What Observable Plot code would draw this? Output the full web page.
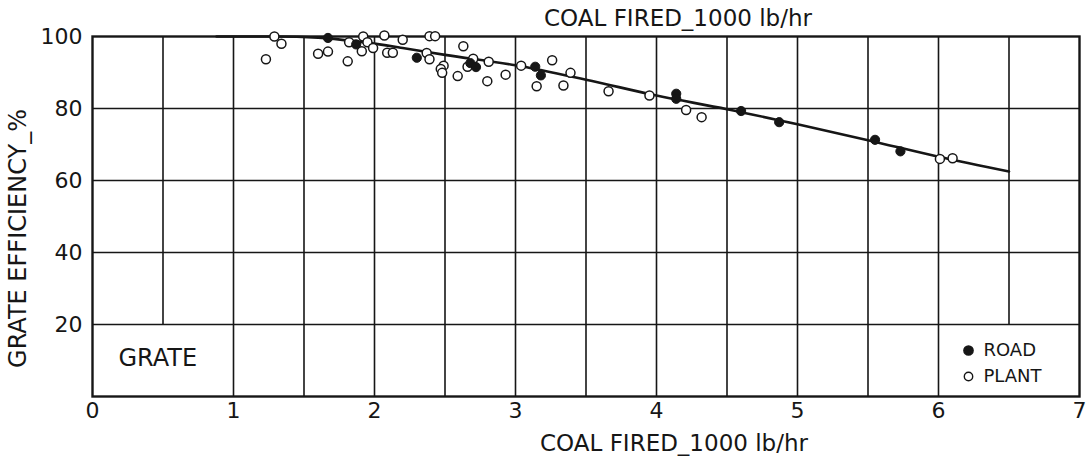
<!DOCTYPE html>
<html>
<head>
<meta charset="utf-8">
<script src="https://cdn.jsdelivr.net/npm/d3@7"></script>
<script src="https://cdn.jsdelivr.net/npm/@observablehq/plot@0.6"></script>
<style>
  html, body { margin: 0; padding: 0; background: #fff; }
  #chart svg { display: block; }
</style>
</head>
<body>
<div id="chart"></div>
<script>
// ---- data ----
const xTicks = [0, 1, 2, 3, 4, 5, 6, 7];
const yTicks = [20, 40, 60, 80, 100];
const gridRowsY = [20, 40, 60, 80];
const gridColsFull = [1, 1.5, 2, 2.5, 3, 3.5, 4, 4.5, 5, 5.5, 6];
const gridColsShort = [0.5, 6.5];   // these stop at the 20 % line (GRATE box / legend box)
const shortColsFrom = 20;

// fitted curve (coal fired, grate efficiency)
const curveX = [0.88, 1.3, 1.6, 1.9, 2.2, 2.5, 3.0, 3.5, 4.0, 4.5, 5.0, 5.5, 6.0, 6.5];
const curveY = [100, 100, 99.7, 98.5, 96.8, 94.9, 92.0, 88.0, 83.6, 79.8, 75.6, 71.2, 66.6, 62.5];

// ROAD (filled)
const roadX = [1.67, 1.87, 2.30, 2.68, 2.72, 3.14, 3.18, 4.14, 4.14, 4.60, 4.87, 5.55, 5.73];
const roadY = [99.6, 97.8, 94.1, 92.6, 91.5, 91.6, 89.2, 84.1, 82.7, 79.3, 76.2, 71.3, 68.1];

// PLANT (open)
const plantX = [1.23, 1.29, 1.34, 1.60, 1.67, 1.81, 1.82, 1.92, 1.91, 1.95, 1.99, 2.07, 2.09, 2.13,
                2.20, 2.37, 2.39, 2.39, 2.43, 2.49, 2.47, 2.48, 2.59, 2.63, 2.66, 2.70, 2.80, 2.81,
                2.93, 3.04, 3.15, 3.26, 3.34, 3.39, 3.66, 3.95, 4.21, 4.32, 6.01, 6.10];
const plantY = [93.7, 100.0, 98.0, 95.2, 95.8, 93.1, 98.4, 100.0, 95.9, 98.4, 96.8, 100.3, 95.5, 95.5,
                99.1, 95.4, 93.7, 100.1, 100.1, 91.9, 91.0, 89.9, 89.0, 97.3, 91.6, 93.8, 87.6, 93.0,
                89.4, 91.9, 86.2, 93.4, 86.4, 89.9, 84.8, 83.6, 79.6, 77.6, 66.0, 66.2];

const xTitle = "COAL FIRED_1000 lb/hr";
const yTitle = "GRATE EFFICIENCY_%";
const boxLabel = "GRATE";
const legendNames = ["ROAD", "PLANT"];

// ---- tables built from the arrays ----
const curve = curveX.map((x, i) => ({x, y: curveY[i]}));
const road = roadX.map((x, i) => ({x, y: roadY[i]}));
const plant = plantX.map((x, i) => ({x, y: plantY[i]}));

const ink = "#161616";
const font = "'DejaVu Sans', sans-serif";

const chart = Plot.plot({
  width: 1091,
  height: 466,
  marginLeft: 92,
  marginRight: 12,
  marginTop: 36,
  marginBottom: 70,
  style: { fontFamily: font, color: ink, background: "#fff" },
  x: { domain: [0, 7] },
  y: { domain: [0, 100] },
  marks: [
    // grid
    Plot.ruleY(gridRowsY, { stroke: ink, strokeWidth: 1.6 }),
    Plot.ruleX(gridColsFull, { stroke: ink, strokeWidth: 1.6 }),
    Plot.ruleX(gridColsShort, { y1: shortColsFrom, y2: 100, stroke: ink, strokeWidth: 1.6 }),
    Plot.frame({ stroke: ink, strokeWidth: 2.4 }),
    // axes
    Plot.axisX(xTicks, { tickSize: 0, tickPadding: 6, fontSize: 22, label: null, fill: ink, tickFormat: d3.format("d") }),
    Plot.axisY(yTicks, { tickSize: 0, tickPadding: 10, fontSize: 22, label: null, fill: ink, tickFormat: d3.format("d") }),
    // fitted curve
    Plot.line(curve, { x: "x", y: "y", curve: "monotone-x", stroke: ink, strokeWidth: 2.6 }),
    // data
    Plot.dot(plant, { x: "x", y: "y", r: 4.5, fill: "#fff", stroke: ink, strokeWidth: 1.5 }),
    Plot.dot(road, { x: "x", y: "y", r: 4.6, fill: ink, stroke: ink, strokeWidth: 1 }),
    // titles
    Plot.text([xTitle], { frameAnchor: "top", text: d => d, textAnchor: "middle", lineAnchor: "middle",
      dx: 92, dy: -18, fontSize: 23, fill: ink, style: "letter-spacing:2.6px" }),
    Plot.text([xTitle], { frameAnchor: "bottom", text: d => d, textAnchor: "middle", lineAnchor: "middle",
      dx: 88, dy: 47, fontSize: 23, fill: ink, style: "letter-spacing:2.6px" }),
    Plot.text([yTitle], { frameAnchor: "left", text: d => d, textAnchor: "middle", lineAnchor: "middle",
      rotate: -90, dx: -74, dy: 22, fontSize: 24, fill: ink, style: "letter-spacing:4.8px" }),
    // GRATE box label
    Plot.text([boxLabel], { frameAnchor: "bottom-left", text: d => d, textAnchor: "start", lineAnchor: "middle",
      dx: 26, dy: -38, fontSize: 24, fill: ink, style: "letter-spacing:1.6px" }),
    // legend
    Plot.dot([legendNames[0]], { frameAnchor: "bottom-right", dx: -111, dy: -46, r: 4.6, fill: ink, stroke: ink }),
    Plot.dot([legendNames[1]], { frameAnchor: "bottom-right", dx: -111, dy: -20, r: 4.2, fill: "#fff", stroke: ink, strokeWidth: 1.4 }),
    Plot.text([legendNames[0]], { frameAnchor: "bottom-right", text: d => d, textAnchor: "start", lineAnchor: "middle",
      dx: -96, dy: -46, fontSize: 18, fill: ink, style: "letter-spacing:1.2px" }),
    Plot.text([legendNames[1]], { frameAnchor: "bottom-right", text: d => d, textAnchor: "start", lineAnchor: "middle",
      dx: -96, dy: -20, fontSize: 18, fill: ink, style: "letter-spacing:1.2px" })
  ]
});
document.getElementById("chart").appendChild(chart);
</script>
</body>
</html>
